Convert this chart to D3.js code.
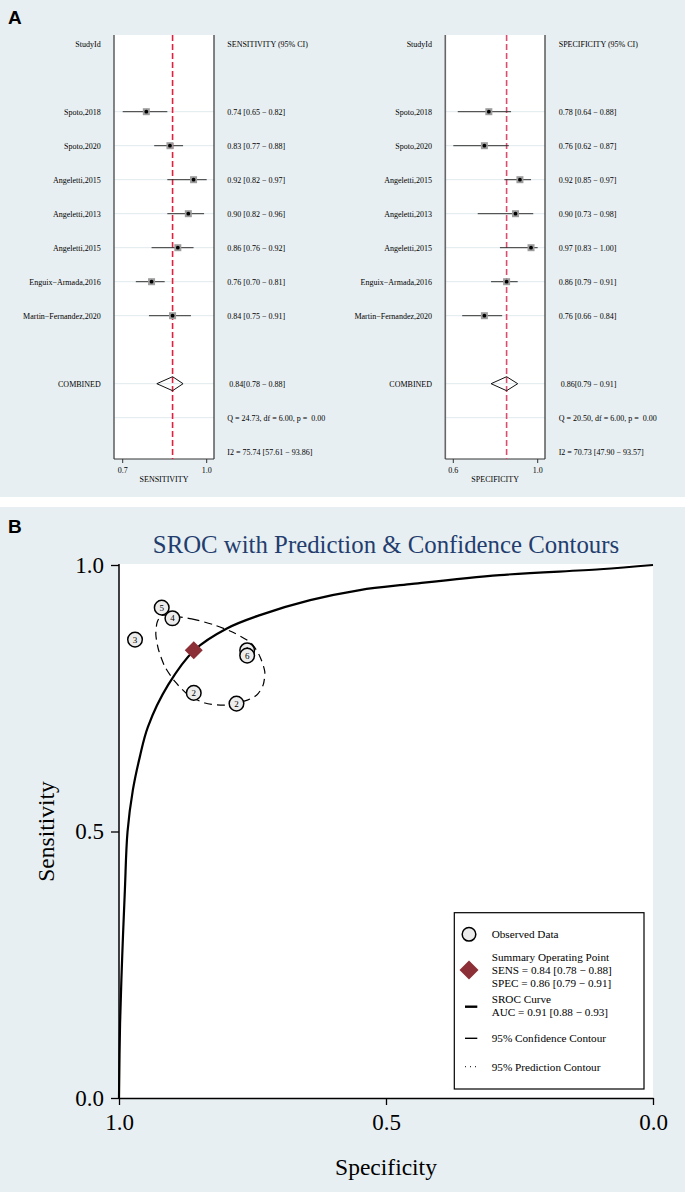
<!DOCTYPE html>
<html><head><meta charset="utf-8">
<script src="https://cdn.jsdelivr.net/npm/d3@7"></script>
<style>
html,body{margin:0;padding:0;background:#fff;}
svg{display:block;}
text{font-family:"Liberation Serif","Times New Roman",serif;white-space:pre;}
</style></head>
<body><div id="chart"></div>
<script>
// ---------- DATA ----------
const studies = ["Spoto,2018","Spoto,2020","Angeletti,2015","Angeletti,2013","Angeletti,2015","Enguix\u2212Armada,2016","Martin\u2212Fernandez,2020"];
const sens   = [0.74,0.83,0.92,0.90,0.86,0.76,0.84];
const sensLo = [0.65,0.77,0.82,0.82,0.76,0.70,0.75];
const sensHi = [0.82,0.88,0.97,0.96,0.92,0.81,0.91];
const spec   = [0.78,0.76,0.92,0.90,0.97,0.86,0.76];
const specLo = [0.64,0.62,0.85,0.73,0.83,0.79,0.66];
const specHi = [0.88,0.87,0.97,0.98,1.00,0.91,0.84];
const combSens = [0.84,0.78,0.88];
const combSpec = [0.86,0.79,0.91];
const sensQ  = "Q = 24.73, df = 6.00, p =  0.00";
const sensI2 = "I2 = 75.74 [57.61 \u2212 93.86]";
const specQ  = "Q = 20.50, df = 6.00, p =  0.00";
const specI2 = "I2 = 70.73 [47.90 \u2212 93.57]";
const srocLabels = ["2","6","5","4","3","2","1"];
const srocDrawOrder = [6,5,0,4,2,3,1];
// SROC curve (specificity, sensitivity)
const srocSpec = [1.000,0.998,0.994,0.989,0.984,0.974,0.961,0.946,0.908,0.858,0.798,0.736,0.642,0.549,0.455,0.287,0.099,0.000];
const srocSens = [0.000,0.140,0.265,0.390,0.500,0.578,0.640,0.696,0.775,0.841,0.881,0.906,0.934,0.953,0.964,0.981,0.992,1.000];
// 95% confidence contour
const contSpec = [0.914,0.864,0.820,0.783,0.752,0.736,0.727,0.730,0.742,0.764,0.802,0.839,0.870,0.895,0.914,0.926,0.931,0.929,0.923];
const contSens = [0.906,0.899,0.887,0.872,0.853,0.828,0.800,0.775,0.756,0.745,0.737,0.741,0.756,0.781,0.809,0.841,0.869,0.891,0.903];
const xTicksB = [1.0,0.5,0.0];
const yTicksB = [0.0,0.5,1.0];
const legendItems = [["Observed Data"],["Summary Operating Point","SENS = 0.84 [0.78 \u2212 0.88]","SPEC = 0.86 [0.79 \u2212 0.91]"],["SROC Curve","AUC = 0.91 [0.88 \u2212 0.93]"],["95% Confidence Contour"],["95% Prediction Contour"]];

// ---------- DRAW ----------
const W=685,H=1192;
const BG="#e8eff2";
const svg=d3.select("#chart").append("svg").attr("width",W).attr("height",H);
svg.append("rect").attr("width",W).attr("height",H).attr("fill","#fff");
svg.append("rect").attr("x",0).attr("y",0).attr("width",W).attr("height",497).attr("fill",BG);
svg.append("rect").attr("x",0).attr("y",507).attr("width",W).attr("height",H-507).attr("fill",BG);
svg.append("text").attr("x",8).attr("y",24).text("A").attr("font-weight","bold").attr("font-size",19).style("font-family","'Liberation Sans',Arial,sans-serif");
svg.append("text").attr("x",8).attr("y",533).text("B").attr("font-weight","bold").attr("font-size",19).style("font-family","'Liberation Sans',Arial,sans-serif");

const rowY=d3.scaleLinear().domain([0,12]).range([43.7,451.7]);
const FS=8;

function forest(o){
  const g=svg.append("g");
  const top=35,bot=459;
  const x=d3.scaleLinear().domain([d3.min(o.lo),d3.max(o.hi)]).range([o.r0,o.r1]);
  g.append("rect").attr("x",o.b0).attr("y",top).attr("width",o.b1-o.b0).attr("height",bot-top).attr("fill","#fff");
  const gridRows=[2,3,4,5,6,7,8,10,11];
  g.selectAll(".grid").data(gridRows).join("line").attr("x1",o.b0).attr("x2",o.b1)
    .attr("y1",d=>rowY(d)).attr("y2",d=>rowY(d)).attr("stroke","#dfe9ed").attr("stroke-width",1);
  g.append("line").attr("x1",o.b0).attr("x2",o.b0).attr("y1",top).attr("y2",bot).attr("stroke","#666").attr("stroke-width",1.6);
  g.append("line").attr("x1",o.b1).attr("x2",o.b1).attr("y1",top).attr("y2",bot).attr("stroke","#333").attr("stroke-width",1.2);
  g.append("line").attr("x1",o.b0).attr("x2",o.b1).attr("y1",bot).attr("y2",bot).attr("stroke","#333").attr("stroke-width",1);
  const ticks=[d3.min(o.lo),d3.max(o.hi)];
  g.selectAll(".tk").data(ticks).join("line").attr("x1",d=>x(d)).attr("x2",d=>x(d)).attr("y1",bot).attr("y2",bot+4).attr("stroke","#333");
  g.selectAll(".tl").data(ticks).join("text").attr("x",d=>x(d)).attr("y",473).attr("text-anchor","middle").attr("font-size",FS).text(d=>d3.format(".1f")(d));
  g.append("text").attr("x",(o.b0+o.b1)/2).attr("y",482).attr("text-anchor","middle").attr("font-size",FS).text(o.axisTitle);
  g.append("line").attr("x1",x(o.comb[0])).attr("x2",x(o.comb[0])).attr("y1",top).attr("y2",bot)
    .attr("stroke",o.red).attr("stroke-width",1.6).attr("stroke-dasharray","6,3");
  g.append("text").attr("x",o.lx).attr("y",rowY(0)).attr("dy","0.35em").attr("text-anchor","end").attr("font-size",FS).text("StudyId");
  g.append("text").attr("x",o.vx).attr("y",rowY(0)).attr("dy","0.35em").attr("font-size",FS).text(o.header);
  const idx=d3.range(studies.length);
  g.selectAll(".lab").data(idx).join("text").attr("x",o.lx).attr("y",i=>rowY(i+2)).attr("dy","0.35em").attr("text-anchor","end").attr("font-size",FS).text(i=>studies[i]);
  g.selectAll(".ci").data(idx).join("line").attr("x1",i=>x(o.lo[i])).attr("x2",i=>x(o.hi[i])).attr("y1",i=>rowY(i+2)).attr("y2",i=>rowY(i+2)).attr("stroke","#333").attr("stroke-width",1);
  g.selectAll(".sq").data(idx).join("rect").attr("x",i=>x(o.v[i])-3.5).attr("y",i=>rowY(i+2)-3.5).attr("width",7).attr("height",7).attr("fill","#9c9c9c");
  g.selectAll(".dot").data(idx).join("circle").attr("cx",i=>x(o.v[i])).attr("cy",i=>rowY(i+2)).attr("r",1.9).attr("fill","#000");
  g.selectAll(".val").data(idx).join("text").attr("x",o.vx).attr("y",i=>rowY(i+2)).attr("dy","0.35em").attr("font-size",FS)
    .text(i=>`${o.v[i].toFixed(2)} [${o.lo[i].toFixed(2)} \u2212 ${o.hi[i].toFixed(2)}]`);
  const cy=rowY(10);
  g.append("text").attr("x",o.lx).attr("y",cy).attr("dy","0.35em").attr("text-anchor","end").attr("font-size",FS).text("COMBINED");
  g.append("path").attr("d",`M${x(o.comb[1])},${cy}L${x(o.comb[0])},${cy-7}L${x(o.comb[2])},${cy}L${x(o.comb[0])},${cy+7}Z`)
    .attr("fill","none").attr("stroke","#111").attr("stroke-width",1);
  g.append("text").attr("x",o.vx+2).attr("y",cy).attr("dy","0.35em").attr("font-size",FS)
    .text(`${o.comb[0].toFixed(2)}[${o.comb[1].toFixed(2)} \u2212 ${o.comb[2].toFixed(2)}]`);
  g.append("text").attr("x",o.vx).attr("y",rowY(11)).attr("dy","0.35em").attr("font-size",FS).text(o.q);
  g.append("text").attr("x",o.vx).attr("y",rowY(12)).attr("dy","0.35em").attr("font-size",FS).text(o.i2);
}
forest({b0:114,b1:214,r0:122.7,r1:206.7,lx:100.7,vx:227.3,v:sens,lo:sensLo,hi:sensHi,comb:combSens,
  header:"SENSITIVITY (95% CI)",axisTitle:"SENSITIVITY",q:sensQ,i2:sensI2,red:"#e0203e"});
forest({b0:445.3,b1:545,r0:453.3,r1:537.7,lx:432,vx:558.7,v:spec,lo:specLo,hi:specHi,comb:combSpec,
  header:"SPECIFICITY (95% CI)",axisTitle:"SPECIFICITY",q:specQ,i2:specI2,red:"#d9506f"});

// ---------- PANEL B ----------
const x=d3.scaleLinear().domain([1,0]).range([119,653]);
const y=d3.scaleLinear().domain([0,1]).range([1098,565]);
const gB=svg.append("g");
gB.append("rect").attr("x",x(1)).attr("y",564).attr("width",x(0)-x(1)).attr("height",y(0)-564).attr("fill","#fff");
gB.append("text").attr("x",386).attr("y",553).attr("text-anchor","middle").attr("font-size",24.8).attr("fill","#233d6e")
  .text("SROC with Prediction & Confidence Contours");

const xa=gB.append("g").attr("transform",`translate(0,${y(0)})`)
  .call(d3.axisBottom(x).tickValues(xTicksB).tickFormat(d3.format(".1f")).tickSize(7).tickSizeOuter(0).tickPadding(9));
const ya=gB.append("g").attr("transform",`translate(${x(1)},0)`)
  .call(d3.axisLeft(y).tickValues(yTicksB).tickFormat(d3.format(".1f")).tickSize(8).tickSizeOuter(0).tickPadding(7));
[xa,ya].forEach(a=>{
  a.select(".domain").attr("stroke","#000").attr("stroke-width",1.5);
  a.selectAll(".tick line").attr("stroke","#000").attr("stroke-width",1.3);
  a.selectAll(".tick text").attr("font-family","Liberation Serif, serif").attr("font-size",23).attr("fill","#000");
});
ya.select(".domain").attr("d",`M0,${y(0)}V564`);
gB.append("text").attr("x",(x(0)+x(1))/2).attr("y",1175).attr("text-anchor","middle").attr("font-size",23.5).text("Specificity");
gB.append("text").attr("transform","translate(54,831.5) rotate(-90)").attr("text-anchor","middle").attr("font-size",23.5).text("Sensitivity");

// SROC curve
const curvePts=srocSpec.map((s,i)=>[x(s),y(srocSens[i])]);
gB.append("path").attr("d",d3.line().curve(d3.curveCatmullRom.alpha(0.5))(curvePts)).attr("fill","none").attr("stroke","#000").attr("stroke-width",2.2);
// confidence contour
const contPts=contSpec.map((s,i)=>[x(s),y(contSens[i])]);
gB.append("path").attr("d",d3.line().curve(d3.curveCardinalClosed.tension(0.3))(contPts)).attr("fill","none")
  .attr("stroke","#000").attr("stroke-width",1.2).attr("stroke-dasharray","8,5");
// observed
const obs=gB.selectAll(".obs").data(srocDrawOrder).join("g").attr("transform",i=>`translate(${x(spec[i])},${y(sens[i])})`);
obs.append("circle").attr("r",7.3).attr("fill","#ececec").attr("stroke","#000").attr("stroke-width",1.5);
obs.append("text").attr("text-anchor","middle").attr("dy","0.35em").attr("font-size",9).text(i=>srocLabels[i]);
// summary point
const sx=x(combSpec[0]),sy=y(combSens[0]),d=9;
gB.append("path").attr("d",`M${sx},${sy-d}L${sx+d},${sy}L${sx},${sy+d}L${sx-d},${sy}Z`).attr("fill","#8c2f37");

// legend
const lg=gB.append("g");
lg.append("rect").attr("x",454.3).attr("y",912.7).attr("width",644-454.3).attr("height",1089-912.7).attr("fill","#fff").attr("stroke","#000").attr("stroke-width",1.2);
const lx=469, tx=491.7, LFS=11.2;
lg.append("circle").attr("cx",lx).attr("cy",934.3).attr("r",6.8).attr("fill","#ececec").attr("stroke","#000").attr("stroke-width",1.5);
lg.append("path").attr("d",`M${lx},${970-9.5}L${lx+9.5},970L${lx},${970+9.5}L${lx-9.5},970Z`).attr("fill","#8c2f37");
lg.append("line").attr("x1",465).attr("x2",477.3).attr("y1",1006.7).attr("y2",1006.7).attr("stroke","#000").attr("stroke-width",2.4);
lg.append("line").attr("x1",465).attr("x2",477.3).attr("y1",1038.3).attr("y2",1038.3).attr("stroke","#000").attr("stroke-width",1.4);
lg.append("line").attr("x1",465).attr("x2",478).attr("y1",1066.7).attr("y2",1066.7).attr("stroke","#000").attr("stroke-width",1).attr("stroke-dasharray","1,4");
const legY=[[934.3],[957.4,970.3,983.2],[998.8,1011.7],[1038.3],[1066.7]];
legendItems.forEach((lines,k)=>{
  lines.forEach((t,j)=>{
    lg.append("text").attr("x",tx).attr("y",legY[k][j]).attr("dy","0.35em").attr("font-size",LFS).text(t);
  });
});
</script></body></html>
